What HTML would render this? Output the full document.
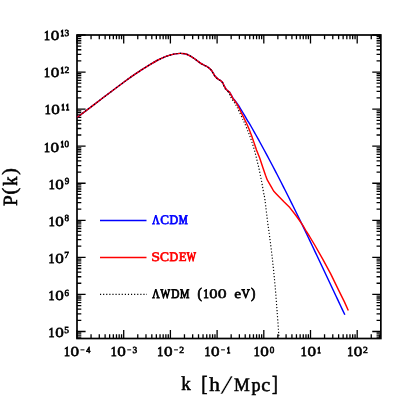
<!DOCTYPE html>
<html><head><meta charset="utf-8"><title>P(k)</title>
<style>
html,body{margin:0;padding:0;background:#fff;}
svg{display:block;will-change:transform}
text{text-rendering:geometricPrecision;font-family:"Liberation Serif",serif;font-weight:normal;}
</style></head><body>
<svg width="415" height="415" viewBox="0 0 415 415">
<rect width="415" height="415" fill="#fff"/>
<path d="M77.00 338.50v-8.60M77.00 35.00v8.60M91.06 338.50v-4.30M91.06 35.00v4.30M99.28 338.50v-4.30M99.28 35.00v4.30M105.12 338.50v-4.30M105.12 35.00v4.30M109.64 338.50v-4.30M109.64 35.00v4.30M113.34 338.50v-4.30M113.34 35.00v4.30M116.47 338.50v-4.30M116.47 35.00v4.30M119.17 338.50v-4.30M119.17 35.00v4.30M121.56 338.50v-4.30M121.56 35.00v4.30M123.70 338.50v-8.60M123.70 35.00v8.60M137.76 338.50v-4.30M137.76 35.00v4.30M145.98 338.50v-4.30M145.98 35.00v4.30M151.82 338.50v-4.30M151.82 35.00v4.30M156.34 338.50v-4.30M156.34 35.00v4.30M160.04 338.50v-4.30M160.04 35.00v4.30M163.17 338.50v-4.30M163.17 35.00v4.30M165.87 338.50v-4.30M165.87 35.00v4.30M168.26 338.50v-4.30M168.26 35.00v4.30M170.40 338.50v-8.60M170.40 35.00v8.60M184.46 338.50v-4.30M184.46 35.00v4.30M192.68 338.50v-4.30M192.68 35.00v4.30M198.52 338.50v-4.30M198.52 35.00v4.30M203.04 338.50v-4.30M203.04 35.00v4.30M206.74 338.50v-4.30M206.74 35.00v4.30M209.87 338.50v-4.30M209.87 35.00v4.30M212.57 338.50v-4.30M212.57 35.00v4.30M214.96 338.50v-4.30M214.96 35.00v4.30M217.10 338.50v-8.60M217.10 35.00v8.60M231.16 338.50v-4.30M231.16 35.00v4.30M239.38 338.50v-4.30M239.38 35.00v4.30M245.22 338.50v-4.30M245.22 35.00v4.30M249.74 338.50v-4.30M249.74 35.00v4.30M253.44 338.50v-4.30M253.44 35.00v4.30M256.57 338.50v-4.30M256.57 35.00v4.30M259.27 338.50v-4.30M259.27 35.00v4.30M261.66 338.50v-4.30M261.66 35.00v4.30M263.80 338.50v-8.60M263.80 35.00v8.60M277.86 338.50v-4.30M277.86 35.00v4.30M286.08 338.50v-4.30M286.08 35.00v4.30M291.92 338.50v-4.30M291.92 35.00v4.30M296.44 338.50v-4.30M296.44 35.00v4.30M300.14 338.50v-4.30M300.14 35.00v4.30M303.27 338.50v-4.30M303.27 35.00v4.30M305.97 338.50v-4.30M305.97 35.00v4.30M308.36 338.50v-4.30M308.36 35.00v4.30M310.50 338.50v-8.60M310.50 35.00v8.60M324.56 338.50v-4.30M324.56 35.00v4.30M332.78 338.50v-4.30M332.78 35.00v4.30M338.62 338.50v-4.30M338.62 35.00v4.30M343.14 338.50v-4.30M343.14 35.00v4.30M346.84 338.50v-4.30M346.84 35.00v4.30M349.97 338.50v-4.30M349.97 35.00v4.30M352.67 338.50v-4.30M352.67 35.00v4.30M355.06 338.50v-4.30M355.06 35.00v4.30M357.20 338.50v-8.60M357.20 35.00v8.60M371.26 338.50v-4.30M371.26 35.00v4.30M379.48 338.50v-4.30M379.48 35.00v4.30M77.00 337.22h4.30M380.85 337.22h-4.30M77.00 335.07h4.30M380.85 335.07h-4.30M77.00 333.18h4.30M380.85 333.18h-4.30M77.00 331.48h8.60M380.85 331.48h-8.60M77.00 320.32h4.30M380.85 320.32h-4.30M77.00 313.80h4.30M380.85 313.80h-4.30M77.00 309.17h4.30M380.85 309.17h-4.30M77.00 305.58h4.30M380.85 305.58h-4.30M77.00 302.64h4.30M380.85 302.64h-4.30M77.00 300.16h4.30M380.85 300.16h-4.30M77.00 298.01h4.30M380.85 298.01h-4.30M77.00 296.12h4.30M380.85 296.12h-4.30M77.00 294.42h8.60M380.85 294.42h-8.60M77.00 283.26h4.30M380.85 283.26h-4.30M77.00 276.74h4.30M380.85 276.74h-4.30M77.00 272.11h4.30M380.85 272.11h-4.30M77.00 268.52h4.30M380.85 268.52h-4.30M77.00 265.58h4.30M380.85 265.58h-4.30M77.00 263.10h4.30M380.85 263.10h-4.30M77.00 260.95h4.30M380.85 260.95h-4.30M77.00 259.06h4.30M380.85 259.06h-4.30M77.00 257.36h8.60M380.85 257.36h-8.60M77.00 246.20h4.30M380.85 246.20h-4.30M77.00 239.68h4.30M380.85 239.68h-4.30M77.00 235.05h4.30M380.85 235.05h-4.30M77.00 231.46h4.30M380.85 231.46h-4.30M77.00 228.52h4.30M380.85 228.52h-4.30M77.00 226.04h4.30M380.85 226.04h-4.30M77.00 223.89h4.30M380.85 223.89h-4.30M77.00 222.00h4.30M380.85 222.00h-4.30M77.00 220.30h8.60M380.85 220.30h-8.60M77.00 209.14h4.30M380.85 209.14h-4.30M77.00 202.62h4.30M380.85 202.62h-4.30M77.00 197.99h4.30M380.85 197.99h-4.30M77.00 194.40h4.30M380.85 194.40h-4.30M77.00 191.46h4.30M380.85 191.46h-4.30M77.00 188.98h4.30M380.85 188.98h-4.30M77.00 186.83h4.30M380.85 186.83h-4.30M77.00 184.94h4.30M380.85 184.94h-4.30M77.00 183.24h8.60M380.85 183.24h-8.60M77.00 172.08h4.30M380.85 172.08h-4.30M77.00 165.56h4.30M380.85 165.56h-4.30M77.00 160.93h4.30M380.85 160.93h-4.30M77.00 157.34h4.30M380.85 157.34h-4.30M77.00 154.40h4.30M380.85 154.40h-4.30M77.00 151.92h4.30M380.85 151.92h-4.30M77.00 149.77h4.30M380.85 149.77h-4.30M77.00 147.88h4.30M380.85 147.88h-4.30M77.00 146.18h8.60M380.85 146.18h-8.60M77.00 135.02h4.30M380.85 135.02h-4.30M77.00 128.50h4.30M380.85 128.50h-4.30M77.00 123.87h4.30M380.85 123.87h-4.30M77.00 120.28h4.30M380.85 120.28h-4.30M77.00 117.34h4.30M380.85 117.34h-4.30M77.00 114.86h4.30M380.85 114.86h-4.30M77.00 112.71h4.30M380.85 112.71h-4.30M77.00 110.82h4.30M380.85 110.82h-4.30M77.00 109.12h8.60M380.85 109.12h-8.60M77.00 97.96h4.30M380.85 97.96h-4.30M77.00 91.44h4.30M380.85 91.44h-4.30M77.00 86.81h4.30M380.85 86.81h-4.30M77.00 83.22h4.30M380.85 83.22h-4.30M77.00 80.28h4.30M380.85 80.28h-4.30M77.00 77.80h4.30M380.85 77.80h-4.30M77.00 75.65h4.30M380.85 75.65h-4.30M77.00 73.76h4.30M380.85 73.76h-4.30M77.00 72.06h8.60M380.85 72.06h-8.60M77.00 60.90h4.30M380.85 60.90h-4.30M77.00 54.38h4.30M380.85 54.38h-4.30M77.00 49.75h4.30M380.85 49.75h-4.30M77.00 46.16h4.30M380.85 46.16h-4.30M77.00 43.22h4.30M380.85 43.22h-4.30M77.00 40.74h4.30M380.85 40.74h-4.30M77.00 38.59h4.30M380.85 38.59h-4.30M77.00 36.70h4.30M380.85 36.70h-4.30M77.00 35.00h8.60M380.85 35.00h-8.60" stroke="#000" stroke-width="1.3" fill="none"/>
<rect x="77.0" y="35.0" width="303.85" height="303.50" fill="none" stroke="#000" stroke-width="1.7"/>
<path d="M77.00 117.50C81.02 114.46 92.92 105.42 101.10 99.25C109.28 93.08 119.85 85.08 126.10 80.50C132.35 75.92 134.42 74.58 138.60 71.80C142.78 69.02 148.13 65.73 151.20 63.85C154.27 61.97 154.92 61.58 157.00 60.50C159.08 59.42 161.53 58.29 163.70 57.40C165.87 56.51 168.12 55.74 170.00 55.15C171.88 54.56 173.33 54.14 175.00 53.85C176.67 53.56 178.33 53.41 180.00 53.40C181.67 53.39 183.33 53.39 185.00 53.80C186.67 54.21 188.33 54.97 190.00 55.85C191.67 56.73 193.32 57.94 195.00 59.10C196.68 60.26 198.83 61.91 200.10 62.80C201.37 63.69 201.57 63.88 202.60 64.45C203.63 65.02 205.27 65.62 206.30 66.20C207.33 66.78 208.08 67.37 208.80 67.90C209.52 68.43 210.07 68.87 210.60 69.40C211.13 69.93 211.28 70.00 212.00 71.10C212.72 72.20 213.93 74.70 214.90 76.00C215.87 77.30 216.83 78.12 217.80 78.90C218.77 79.68 219.88 80.03 220.70 80.65C221.52 81.28 222.08 81.69 222.70 82.65C223.32 83.61 223.78 85.24 224.40 86.40C225.03 87.56 225.72 88.73 226.45 89.60C227.18 90.47 228.20 91.11 228.76 91.60C229.32 92.09 229.39 91.96 229.81 92.55C230.24 93.14 230.79 94.23 231.31 95.15C231.83 96.07 232.24 97.04 232.92 98.05C233.61 99.06 234.64 100.19 235.43 101.20C236.21 102.21 236.97 103.17 237.61 104.10C238.25 105.02 238.46 105.43 239.28 106.75C240.09 108.07 241.20 109.83 242.50 112.00C243.80 114.17 245.70 117.47 247.09 119.80C248.48 122.13 249.46 123.63 250.84 126.00C252.22 128.37 253.86 131.33 255.35 134.00C256.84 136.67 258.32 139.33 259.79 142.00C261.26 144.67 262.72 147.33 264.16 150.00C265.60 152.67 267.03 155.33 268.45 158.00C269.87 160.67 271.29 163.33 272.69 166.00C274.09 168.67 275.48 171.33 276.86 174.00C278.24 176.67 279.62 179.33 280.98 182.00C282.34 184.67 283.69 187.33 285.04 190.00C286.39 192.67 287.73 195.33 289.06 198.00C290.39 200.67 291.72 203.33 293.04 206.00C294.36 208.67 295.67 211.33 296.97 214.00C298.28 216.67 299.57 219.33 300.87 222.00C302.17 224.67 303.46 227.33 304.74 230.00C306.02 232.67 307.30 235.33 308.58 238.00C309.86 240.67 310.97 243.00 312.40 246.00C313.83 249.00 315.56 252.67 317.14 256.00C318.72 259.33 320.29 262.67 321.86 266.00C323.43 269.33 325.00 272.67 326.57 276.00C328.14 279.33 329.70 282.67 331.27 286.00C332.84 289.33 334.40 292.67 335.97 296.00C337.54 299.33 339.20 302.87 340.68 306.00C342.16 309.13 344.16 313.33 344.85 314.80" fill="none" stroke="#0000ff" stroke-width="1.45" stroke-linejoin="round"/>
<path d="M77.00 117.50C81.02 114.46 92.92 105.42 101.10 99.25C109.28 93.08 119.85 85.08 126.10 80.50C132.35 75.92 134.42 74.58 138.60 71.80C142.78 69.02 148.13 65.73 151.20 63.85C154.27 61.97 154.92 61.58 157.00 60.50C159.08 59.42 161.53 58.29 163.70 57.40C165.87 56.51 168.12 55.74 170.00 55.15C171.88 54.56 173.33 54.14 175.00 53.85C176.67 53.56 178.33 53.41 180.00 53.40C181.67 53.39 183.33 53.39 185.00 53.80C186.67 54.21 188.33 54.97 190.00 55.85C191.67 56.73 193.32 57.94 195.00 59.10C196.68 60.26 198.83 61.91 200.10 62.80C201.37 63.69 201.57 63.88 202.60 64.45C203.63 65.02 205.27 65.62 206.30 66.20C207.33 66.78 208.08 67.37 208.80 67.90C209.52 68.43 210.07 68.87 210.60 69.40C211.13 69.93 211.28 70.00 212.00 71.10C212.72 72.20 213.93 74.70 214.90 76.00C215.87 77.30 216.83 78.12 217.80 78.90C218.77 79.68 219.88 80.03 220.70 80.65C221.52 81.28 222.08 81.69 222.70 82.65C223.32 83.61 223.78 85.24 224.40 86.40C225.03 87.56 225.72 88.73 226.45 89.60C227.18 90.47 228.20 91.11 228.76 91.60C229.32 92.09 229.39 91.96 229.80 92.55C230.21 93.14 230.72 94.23 231.20 95.15C231.68 96.07 232.04 97.04 232.67 98.05C233.30 99.06 234.28 100.19 235.00 101.20C235.72 102.21 236.43 103.17 237.00 104.10C237.57 105.02 237.73 105.43 238.40 106.75C239.07 108.07 239.93 109.83 241.00 112.00C242.07 114.17 243.53 117.13 244.80 119.80C246.07 122.47 247.37 125.07 248.60 128.00C249.83 130.93 251.25 134.82 252.20 137.40C253.15 139.98 253.58 141.40 254.30 143.50C255.02 145.60 256.13 148.92 256.50 150.00L259.70 158.10L262.85 167.50L265.50 175.20L267.25 179.90L269.56 183.90L271.87 187.90L273.60 191.00L275.90 193.40L278.80 196.40L284.20 202.10L289.80 207.60L295.56 215.00L299.20 220.00L303.00 225.60L306.40 231.50L309.30 236.00L314.40 244.50L322.60 258.90L330.70 273.90L338.60 290.10L344.30 301.60L348.30 310.50" fill="none" stroke="#ff0000" stroke-width="1.45" stroke-linejoin="round"/>
<path d="M77.00 117.50C81.02 114.46 92.92 105.42 101.10 99.25C109.28 93.08 119.85 85.08 126.10 80.50C132.35 75.92 134.42 74.58 138.60 71.80C142.78 69.02 148.13 65.73 151.20 63.85C154.27 61.97 154.92 61.58 157.00 60.50C159.08 59.42 161.53 58.29 163.70 57.40C165.87 56.51 168.12 55.74 170.00 55.15C171.88 54.56 173.33 54.14 175.00 53.85C176.67 53.56 178.33 53.41 180.00 53.40C181.67 53.39 183.33 53.39 185.00 53.80C186.67 54.21 188.33 54.97 190.00 55.85C191.67 56.73 193.32 57.94 195.00 59.10C196.68 60.26 198.83 61.91 200.10 62.80C201.37 63.69 201.57 63.88 202.60 64.45C203.63 65.02 205.24 65.62 206.26 66.20C207.29 66.78 208.03 67.37 208.74 67.90C209.44 68.43 209.99 68.87 210.51 69.40C211.03 69.93 211.18 70.00 211.88 71.10C212.57 72.20 213.74 74.70 214.67 76.00C215.61 77.30 216.54 78.12 217.49 78.90C218.43 79.68 219.54 80.03 220.34 80.65C221.14 81.28 221.69 81.69 222.28 82.65C222.86 83.61 223.28 85.24 223.85 86.40C224.43 87.56 225.06 88.73 225.73 89.60C226.40 90.47 227.53 91.27 227.89 91.60" fill="none" stroke="#000" stroke-width="1.15" stroke-dasharray="1.15 2.35"/>
<path d="M227.89 91.60C228.05 91.76 228.50 91.96 228.84 92.55C229.19 93.14 229.59 94.23 229.98 95.15C230.38 96.07 230.67 97.04 231.24 98.05C231.81 99.06 232.74 100.19 233.42 101.20C234.10 102.21 234.79 103.17 235.35 104.10C235.91 105.02 236.07 105.43 236.75 106.75C237.43 108.07 238.36 109.83 239.40 112.00C240.44 114.17 242.11 117.87 243.01 119.80C243.91 121.73 243.99 121.72 244.80 123.60C245.62 125.48 246.93 128.66 247.90 131.10C248.88 133.54 249.86 136.03 250.65 138.25C251.44 140.47 252.03 142.39 252.67 144.40C253.31 146.41 253.93 148.30 254.50 150.30C255.07 152.30 255.57 154.37 256.07 156.40C256.57 158.43 257.02 160.50 257.50 162.50C257.98 164.50 258.51 166.40 258.96 168.40C259.41 170.40 259.78 172.45 260.20 174.50C260.62 176.55 261.07 178.63 261.47 180.70C261.87 182.77 262.24 184.85 262.60 186.90C262.96 188.95 263.25 190.80 263.65 193.00C264.05 195.20 264.32 195.15 265.00 200.10C265.68 205.05 266.94 216.72 267.70 222.70C268.46 228.68 268.73 229.62 269.55 236.00C270.37 242.38 271.68 252.65 272.60 261.00C273.53 269.35 274.35 277.73 275.10 286.10C275.85 294.47 276.48 303.05 277.10 311.20C277.72 319.35 278.47 330.45 278.80 335.00C279.13 339.55 279.05 337.92 279.10 338.50" fill="none" stroke="#000" stroke-width="1.15" stroke-dasharray="1.15 1.95"/>
<path d="M100 220.5H146.5" stroke="#0000ff" stroke-width="1.45"/>
<path d="M100 257.5H146.5" stroke="#ff0000" stroke-width="1.45"/>
<path d="M100 294.4H147.0" stroke="#000" stroke-width="1.15" stroke-dasharray="1.15 1.95"/>
<g transform="rotate(0.02 207 207)">
<text font-size="13.0" fill="#0000ff" stroke="#0000ff" stroke-width="0.7" ><tspan x="152.25" y="224.05" textLength="7.40" lengthAdjust="spacingAndGlyphs" stroke-width="0.94">Λ</tspan><tspan x="160.31" y="224.05" textLength="8.76" lengthAdjust="spacingAndGlyphs" stroke-width="0.69">C</tspan><tspan x="169.61" y="224.05" textLength="8.62" lengthAdjust="spacingAndGlyphs" stroke-width="0.78">D</tspan><tspan x="178.76" y="224.05" textLength="8.99" lengthAdjust="spacingAndGlyphs" stroke-width="0.95">M</tspan></text>
<text font-size="13.0" fill="#ff0000" stroke="#ff0000" stroke-width="0.7" ><tspan x="151.29" y="261.05" textLength="8.85" lengthAdjust="spacingAndGlyphs" stroke-width="0.55">S</tspan><tspan x="160.10" y="261.05" textLength="9.00" lengthAdjust="spacingAndGlyphs" stroke-width="0.67">C</tspan><tspan x="169.61" y="261.05" textLength="8.62" lengthAdjust="spacingAndGlyphs" stroke-width="0.78">D</tspan><tspan x="178.68" y="261.05" textLength="7.80" lengthAdjust="spacingAndGlyphs" stroke-width="0.71">E</tspan><tspan x="186.74" y="261.05" textLength="9.13" lengthAdjust="spacingAndGlyphs" stroke-width="1.00">W</tspan></text>
<text font-size="13.0" fill="#000" stroke="#000" stroke-width="0.7" ><tspan x="152.25" y="298.45" textLength="7.40" lengthAdjust="spacingAndGlyphs" stroke-width="0.94">Λ</tspan><tspan x="160.64" y="298.45" textLength="9.63" lengthAdjust="spacingAndGlyphs" stroke-width="0.94">W</tspan><tspan x="171.22" y="298.45" textLength="8.18" lengthAdjust="spacingAndGlyphs" stroke-width="0.83">D</tspan><tspan x="180.05" y="298.45" textLength="9.31" lengthAdjust="spacingAndGlyphs" stroke-width="0.91">M</tspan> <tspan x="197.47" y="298.20" textLength="4.41" lengthAdjust="spacingAndGlyphs" font-size="14.6" stroke-width="0.79">(</tspan><tspan x="203.18" y="298.45" textLength="5.54" lengthAdjust="spacingAndGlyphs" stroke-width="0.85">1</tspan><tspan x="209.42" y="298.45" textLength="8.26" lengthAdjust="spacingAndGlyphs" stroke-width="0.53">0</tspan><tspan x="217.88" y="298.45" textLength="8.85" lengthAdjust="spacingAndGlyphs" stroke-width="0.48">0</tspan> <tspan x="234.35" y="298.45" textLength="6.84" lengthAdjust="spacingAndGlyphs" stroke-width="0.57">e</tspan><tspan x="241.62" y="298.45" textLength="8.36" lengthAdjust="spacingAndGlyphs" stroke-width="0.80">V</tspan><tspan x="250.92" y="298.20" textLength="4.41" lengthAdjust="spacingAndGlyphs" font-size="14.6" stroke-width="0.79">)</tspan></text>
<text font-size="13.7" fill="#000" stroke="#000" stroke-width="0.7" ><tspan x="48.65" y="336.88" textLength="5.97" lengthAdjust="spacingAndGlyphs" stroke-width="0.83">1</tspan><tspan x="55.20" y="336.88" textLength="8.55" lengthAdjust="spacingAndGlyphs" stroke-width="0.54">0</tspan><tspan x="64.39" y="332.68" textLength="4.78" lengthAdjust="spacingAndGlyphs" font-size="9.3" stroke-width="0.58">5</tspan></text>
<text font-size="13.7" fill="#000" stroke="#000" stroke-width="0.7" ><tspan x="48.65" y="299.82" textLength="5.97" lengthAdjust="spacingAndGlyphs" stroke-width="0.83">1</tspan><tspan x="55.20" y="299.82" textLength="8.55" lengthAdjust="spacingAndGlyphs" stroke-width="0.54">0</tspan><tspan x="64.56" y="295.62" textLength="4.51" lengthAdjust="spacingAndGlyphs" font-size="9.3" stroke-width="0.62">6</tspan></text>
<text font-size="13.7" fill="#000" stroke="#000" stroke-width="0.7" ><tspan x="48.65" y="262.76" textLength="5.97" lengthAdjust="spacingAndGlyphs" stroke-width="0.83">1</tspan><tspan x="55.20" y="262.76" textLength="8.55" lengthAdjust="spacingAndGlyphs" stroke-width="0.54">0</tspan><tspan x="64.32" y="258.56" textLength="4.75" lengthAdjust="spacingAndGlyphs" font-size="9.3" stroke-width="0.58">7</tspan></text>
<text font-size="13.7" fill="#000" stroke="#000" stroke-width="0.7" ><tspan x="48.65" y="225.70" textLength="5.97" lengthAdjust="spacingAndGlyphs" stroke-width="0.83">1</tspan><tspan x="55.20" y="225.70" textLength="8.55" lengthAdjust="spacingAndGlyphs" stroke-width="0.54">0</tspan><tspan x="64.60" y="221.50" textLength="4.54" lengthAdjust="spacingAndGlyphs" font-size="9.3" stroke-width="0.62">8</tspan></text>
<text font-size="13.7" fill="#000" stroke="#000" stroke-width="0.7" ><tspan x="48.65" y="188.64" textLength="5.97" lengthAdjust="spacingAndGlyphs" stroke-width="0.83">1</tspan><tspan x="55.20" y="188.64" textLength="8.55" lengthAdjust="spacingAndGlyphs" stroke-width="0.54">0</tspan><tspan x="64.66" y="184.44" textLength="4.51" lengthAdjust="spacingAndGlyphs" font-size="9.3" stroke-width="0.62">9</tspan></text>
<text font-size="13.7" fill="#000" stroke="#000" stroke-width="0.7" ><tspan x="44.05" y="151.58" textLength="5.97" lengthAdjust="spacingAndGlyphs" stroke-width="0.83">1</tspan><tspan x="50.60" y="151.58" textLength="8.55" lengthAdjust="spacingAndGlyphs" stroke-width="0.54">0</tspan><tspan x="60.65" y="147.38" textLength="3.12" lengthAdjust="spacingAndGlyphs" font-size="8.700000000000001" stroke-width="1.34">1</tspan><tspan x="64.60" y="147.38" textLength="4.54" lengthAdjust="spacingAndGlyphs" font-size="9.3" stroke-width="0.62">0</tspan></text>
<text font-size="13.7" fill="#000" stroke="#000" stroke-width="0.7" ><tspan x="44.80" y="114.52" textLength="5.97" lengthAdjust="spacingAndGlyphs" stroke-width="0.83">1</tspan><tspan x="51.35" y="114.52" textLength="8.55" lengthAdjust="spacingAndGlyphs" stroke-width="0.54">0</tspan><tspan x="61.40" y="110.32" textLength="3.12" lengthAdjust="spacingAndGlyphs" font-size="8.700000000000001" stroke-width="1.34">1</tspan><tspan x="66.00" y="110.32" textLength="3.12" lengthAdjust="spacingAndGlyphs" font-size="8.700000000000001" stroke-width="1.34">1</tspan></text>
<text font-size="13.7" fill="#000" stroke="#000" stroke-width="0.7" ><tspan x="44.05" y="77.46" textLength="5.97" lengthAdjust="spacingAndGlyphs" stroke-width="0.83">1</tspan><tspan x="50.60" y="77.46" textLength="8.55" lengthAdjust="spacingAndGlyphs" stroke-width="0.54">0</tspan><tspan x="60.65" y="73.26" textLength="3.12" lengthAdjust="spacingAndGlyphs" font-size="8.700000000000001" stroke-width="1.34">1</tspan><tspan x="64.53" y="73.26" textLength="4.80" lengthAdjust="spacingAndGlyphs" font-size="9.3" stroke-width="0.58">2</tspan></text>
<text font-size="13.7" fill="#000" stroke="#000" stroke-width="0.7" ><tspan x="44.05" y="40.40" textLength="5.97" lengthAdjust="spacingAndGlyphs" stroke-width="0.83">1</tspan><tspan x="50.60" y="40.40" textLength="8.55" lengthAdjust="spacingAndGlyphs" stroke-width="0.54">0</tspan><tspan x="60.65" y="36.20" textLength="3.12" lengthAdjust="spacingAndGlyphs" font-size="8.700000000000001" stroke-width="1.34">1</tspan><tspan x="64.50" y="36.20" textLength="4.66" lengthAdjust="spacingAndGlyphs" font-size="9.3" stroke-width="0.60">3</tspan></text>
<text font-size="13.7" fill="#000" stroke="#000" stroke-width="0.7" ><tspan x="64.00" y="356.30" textLength="5.97" lengthAdjust="spacingAndGlyphs" stroke-width="0.83">1</tspan><tspan x="70.55" y="356.30" textLength="8.55" lengthAdjust="spacingAndGlyphs" stroke-width="0.54">0</tspan><tspan x="80.38" y="352.70" textLength="4.42" lengthAdjust="spacingAndGlyphs" font-size="9.3" stroke-width="0.43">−</tspan><tspan x="86.19" y="352.70" textLength="4.14" lengthAdjust="spacingAndGlyphs" font-size="9.3" stroke-width="0.69">4</tspan></text>
<text font-size="13.7" fill="#000" stroke="#000" stroke-width="0.7" ><tspan x="110.70" y="356.30" textLength="5.97" lengthAdjust="spacingAndGlyphs" stroke-width="0.83">1</tspan><tspan x="117.25" y="356.30" textLength="8.55" lengthAdjust="spacingAndGlyphs" stroke-width="0.54">0</tspan><tspan x="127.08" y="352.70" textLength="4.42" lengthAdjust="spacingAndGlyphs" font-size="9.3" stroke-width="0.43">−</tspan><tspan x="132.60" y="352.70" textLength="4.66" lengthAdjust="spacingAndGlyphs" font-size="9.3" stroke-width="0.60">3</tspan></text>
<text font-size="13.7" fill="#000" stroke="#000" stroke-width="0.7" ><tspan x="157.40" y="356.30" textLength="5.97" lengthAdjust="spacingAndGlyphs" stroke-width="0.83">1</tspan><tspan x="163.95" y="356.30" textLength="8.55" lengthAdjust="spacingAndGlyphs" stroke-width="0.54">0</tspan><tspan x="173.78" y="352.70" textLength="4.42" lengthAdjust="spacingAndGlyphs" font-size="9.3" stroke-width="0.43">−</tspan><tspan x="179.33" y="352.70" textLength="4.80" lengthAdjust="spacingAndGlyphs" font-size="9.3" stroke-width="0.58">2</tspan></text>
<text font-size="13.7" fill="#000" stroke="#000" stroke-width="0.7" ><tspan x="204.48" y="356.30" textLength="5.97" lengthAdjust="spacingAndGlyphs" stroke-width="0.83">1</tspan><tspan x="211.02" y="356.30" textLength="8.55" lengthAdjust="spacingAndGlyphs" stroke-width="0.54">0</tspan><tspan x="220.86" y="352.70" textLength="4.42" lengthAdjust="spacingAndGlyphs" font-size="9.3" stroke-width="0.43">−</tspan><tspan x="227.13" y="352.70" textLength="3.12" lengthAdjust="spacingAndGlyphs" font-size="8.700000000000001" stroke-width="1.34">1</tspan></text>
<text font-size="13.7" fill="#000" stroke="#000" stroke-width="0.7" ><tspan x="253.83" y="356.30" textLength="5.97" lengthAdjust="spacingAndGlyphs" stroke-width="0.83">1</tspan><tspan x="260.37" y="356.30" textLength="8.55" lengthAdjust="spacingAndGlyphs" stroke-width="0.54">0</tspan><tspan x="269.78" y="352.70" textLength="4.54" lengthAdjust="spacingAndGlyphs" font-size="9.3" stroke-width="0.62">0</tspan></text>
<text font-size="13.7" fill="#000" stroke="#000" stroke-width="0.7" ><tspan x="300.90" y="356.30" textLength="5.97" lengthAdjust="spacingAndGlyphs" stroke-width="0.83">1</tspan><tspan x="307.45" y="356.30" textLength="8.55" lengthAdjust="spacingAndGlyphs" stroke-width="0.54">0</tspan><tspan x="317.50" y="352.70" textLength="3.12" lengthAdjust="spacingAndGlyphs" font-size="8.700000000000001" stroke-width="1.34">1</tspan></text>
<text font-size="13.7" fill="#000" stroke="#000" stroke-width="0.7" ><tspan x="347.23" y="356.30" textLength="5.97" lengthAdjust="spacingAndGlyphs" stroke-width="0.83">1</tspan><tspan x="353.77" y="356.30" textLength="8.55" lengthAdjust="spacingAndGlyphs" stroke-width="0.54">0</tspan><tspan x="363.10" y="352.70" textLength="4.80" lengthAdjust="spacingAndGlyphs" font-size="9.3" stroke-width="0.58">2</tspan></text>
<text font-size="19.1" fill="#000" stroke="#000" stroke-width="0.55" ><tspan x="181.41" y="390.50" textLength="9.51" lengthAdjust="spacingAndGlyphs" font-size="19.8" stroke-width="0.58">k</tspan> <tspan x="201.29" y="390.70" textLength="6.21" lengthAdjust="spacingAndGlyphs" font-size="21.8" stroke-width="0.66">[</tspan><tspan x="209.37" y="390.50" textLength="10.64" lengthAdjust="spacingAndGlyphs" font-size="19.8" stroke-width="0.50">h</tspan><tspan x="220.35" y="393.70" textLength="12.80" lengthAdjust="spacingAndGlyphs" font-size="26.9" stroke="#fff" stroke-width="0.29">/</tspan><tspan x="234.16" y="390.50" textLength="15.78" lengthAdjust="spacingAndGlyphs" stroke-width="0.60">M</tspan><tspan x="251.48" y="390.50" textLength="9.05" lengthAdjust="spacingAndGlyphs" stroke-width="0.59">p</tspan><tspan x="261.41" y="390.50" textLength="8.94" lengthAdjust="spacingAndGlyphs" stroke-width="0.52">c</tspan><tspan x="272.05" y="390.70" textLength="5.76" lengthAdjust="spacingAndGlyphs" font-size="21.8" stroke-width="0.73">]</tspan></text>
<text font-size="20.2" fill="#000" stroke="#000" stroke-width="0.55" transform="translate(16.9 205.8) rotate(-90.02)"><tspan x="-0.28" y="0.00" textLength="10.79" lengthAdjust="spacingAndGlyphs" stroke-width="0.58">P</tspan><tspan x="11.29" y="-0.50" textLength="6.68" lengthAdjust="spacingAndGlyphs" stroke-width="0.55">(</tspan><tspan x="20.02" y="0.00" textLength="9.20" lengthAdjust="spacingAndGlyphs" stroke-width="0.62">k</tspan><tspan x="31.04" y="-0.50" textLength="6.55" lengthAdjust="spacingAndGlyphs" stroke-width="0.57">)</tspan></text>
</g>
</svg>
</body></html>
